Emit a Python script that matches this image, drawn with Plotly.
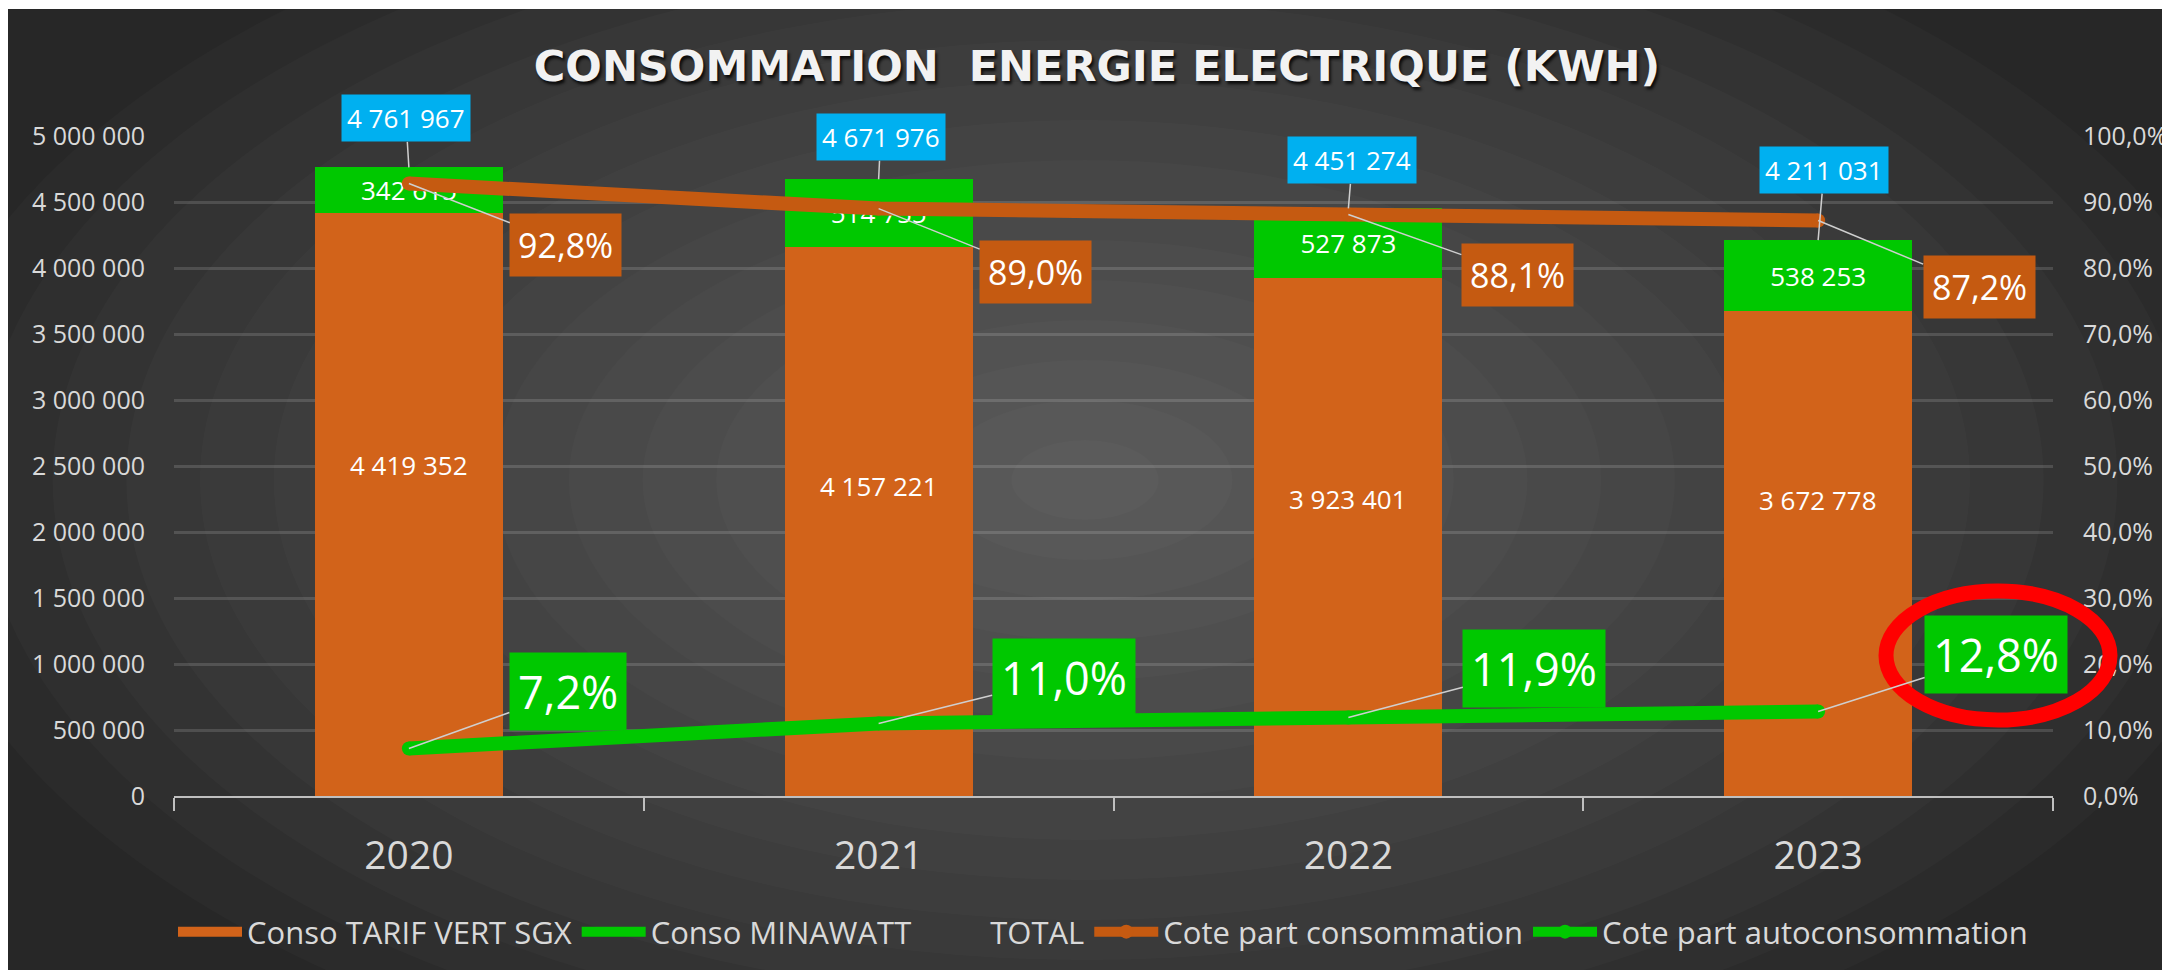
import plotly.graph_objects as go

# ─── Data ─────────────────────────────────────────────────────────────────────
YEARS = ['2020', '2021', '2022', '2023']
TARIF_VERT = [4419352, 4157221, 3923401, 3672778]
MINAWATT = [342615, 514755, 527873, 538253]
TOTAL = [4761967, 4671976, 4451274, 4211031]
PART_CONSO = [0.928, 0.890, 0.881, 0.872]
PART_AUTO = [0.072, 0.110, 0.119, 0.128]

COLORS = {
    'bar_orange': '#D2631A',
    'line_orange': '#C55A11',
    'green': '#00C800',
    'blue': '#00B0F0',
    'text': '#D9D9D9',
    'bg': '#272727',
    'red': '#FF0000',
}
FONT = 'Open Sans'

# page body keeps its default 8px margin, so the figure is drawn 8px in
OFF = 8
W, H = 2170 - OFF, 977 - OFF
PLOT_L, PLOT_R, PLOT_T, PLOT_B = 174, 2053, 136, 796


def px(x):
    return (x - PLOT_L) / (PLOT_R - PLOT_L)


def py(y):
    return (PLOT_B - y) / (PLOT_B - PLOT_T)


def fmt_int(v):
    return f'{v:,}'.replace(',', ' ')


def fmt_pct(v):
    return f'{v * 100:.1f}%'.replace('.', ',')


fig = go.Figure()

fig.add_trace(go.Bar(
    x=YEARS, y=TARIF_VERT, name='Conso TARIF VERT SGX', showlegend=False,
    marker=dict(color=COLORS['bar_orange'], line_width=0),
))
fig.add_trace(go.Bar(
    x=YEARS, y=MINAWATT, name='Conso MINAWATT', showlegend=False,
    marker=dict(color=COLORS['green'], line_width=0),
    text=[fmt_int(v) for v in MINAWATT],
    textposition='inside', insidetextanchor='middle', textangle=0,
    textfont=dict(family=FONT, size=26, color='white'),
))

# legend swatches for the bars (wide rectangles like the original)
for name, color in [('Conso TARIF VERT SGX', COLORS['bar_orange']),
                    ('Conso MINAWATT', COLORS['green'])]:
    fig.add_trace(go.Scatter(
        x=[None], y=[None], name=name, mode='lines',
        line=dict(width=20, color=color),
    ))

fig.add_trace(go.Scatter(
    x=YEARS, y=TOTAL, name='TOTAL', mode='lines',
    line=dict(width=0, color='rgba(0,0,0,0)'),
))
fig.add_trace(go.Scatter(
    x=YEARS, y=PART_CONSO, name='Cote part consommation', mode='lines+markers',
    line=dict(width=14, color=COLORS['line_orange']),
    marker=dict(size=14, color=COLORS['line_orange']), yaxis='y2',
))
fig.add_trace(go.Scatter(
    x=YEARS, y=PART_AUTO, name='Cote part autoconsommation', mode='lines+markers',
    line=dict(width=14, color=COLORS['green']),
    marker=dict(size=14, color=COLORS['green']), yaxis='y2',
))

# ─── Data labels (x given as category index) ──────────────────────────────────
annotations = []
leader = dict(showarrow=True, arrowhead=0, arrowwidth=1.5, arrowcolor='#CFCFCF', standoff=0)

tarif_shift = [39, 36, 38, 54]
for i, (v, s) in enumerate(zip(TARIF_VERT, tarif_shift)):
    annotations.append(dict(
        x=i, y=v / 2, yshift=s, text=fmt_int(v), showarrow=False,
        font=dict(family=FONT, size=26, color='white'),
    ))

total_off = [(-3, -49), (2, -42), (4, -48), (6, -70)]
for i, (v, (ax, ay)) in enumerate(zip(TOTAL, total_off)):
    annotations.append(dict(
        x=i, y=v, ax=ax, ay=ay, text=fmt_int(v),
        bgcolor=COLORS['blue'], borderpad=5,
        font=dict(family=FONT, size=26, color='white'), **leader,
    ))

conso_off = [(157, 61), (157, 63), (169, 60), (161, 67)]
for i, (v, (ax, ay)) in enumerate(zip(PART_CONSO, conso_off)):
    annotations.append(dict(
        x=i, y=v, yref='y2', ax=ax, ay=ay, text=fmt_pct(v),
        bgcolor=COLORS['line_orange'], borderpad=8,
        font=dict(family=FONT, size=34, color='white'), **leader,
    ))

auto_off = [(159, -57), (185, -46), (186, -49), (178, -57)]
for i, (v, (ax, ay)) in enumerate(zip(PART_AUTO, auto_off)):
    annotations.append(dict(
        x=i, y=v, yref='y2', ax=ax, ay=ay, text=fmt_pct(v),
        bgcolor=COLORS['green'], borderpad=8,
        font=dict(family=FONT, size=45, color='white'), **leader,
    ))

# ─── Background: dark panel with radial glow, red highlight ring ──────────────
shapes = [dict(
    type='rect', xref='paper', yref='paper', layer='below',
    x0=px(0), x1=px(2175), y0=py(970), y1=py(9),
    fillcolor=COLORS['bg'], line_width=0,
)]
cx, cy = 1085, 480
n_steps = 16
for k in range(n_steps, 0, -1):
    rx, ry = 1180 * k / n_steps, 640 * k / n_steps
    shapes.append(dict(
        type='circle', xref='paper', yref='paper', layer='below',
        x0=px(cx - rx), x1=px(cx + rx), y0=py(cy + ry), y1=py(cy - ry),
        fillcolor='rgba(255,255,255,0.018)', line_width=0,
    ))
shapes.append(dict(
    type='circle', xref='paper', yref='paper', layer='above',
    x0=px(1886), x1=px(2110), y0=py(720), y1=py(591),
    line=dict(color=COLORS['red'], width=15), fillcolor='rgba(0,0,0,0)',
))

fig.update_layout(
    width=W, height=H, autosize=False,
    margin=dict(l=PLOT_L - OFF, r=2170 - PLOT_R, t=PLOT_T - OFF, b=977 - PLOT_B,
                autoexpand=False),
    paper_bgcolor='white', plot_bgcolor='rgba(0,0,0,0)',
    separators=', ',
    barmode='stack', bargap=0.6,
    showlegend=True,
    title=dict(
        text='CONSOMMATION  ENERGIE ELECTRIQUE (KWH)',
        x=(1097 - OFF) / W, xref='container', xanchor='center',
        y=1 - (66 - OFF) / H, yref='container', yanchor='middle',
        font=dict(family='DejaVu Sans', size=43, color='#F2F2F2', weight=700,
                  shadow='2px 3px 3px rgba(0,0,0,0.8)'),
    ),
    legend=dict(
        orientation='h', xref='container', x=(1103 - OFF) / W, xanchor='center',
        yref='container', y=1 - (932 - OFF) / H, yanchor='middle',
        font=dict(family=FONT, size=31, color=COLORS['text']),
        bgcolor='rgba(0,0,0,0)', traceorder='normal', itemwidth=64,
    ),
    xaxis=dict(
        type='category', range=[-0.5, 3.5], tickson='boundaries',
        ticks='outside', ticklen=13, tickangle=0, automargin=False,
        tickcolor='#BFBFBF', tickwidth=2, showline=True, linecolor='#BFBFBF',
        linewidth=2, showgrid=False, ticklabelstandoff=24,
        tickfont=dict(family=FONT, size=39, color=COLORS['text']),
    ),
    yaxis=dict(
        range=[0, 5000000], dtick=500000, tickformat=',d', automargin=False,
        showgrid=True, gridcolor='rgba(255,255,255,0.14)', gridwidth=3,
        zeroline=False, ticklabelstandoff=28,
        tickfont=dict(family=FONT, size=25, color=COLORS['text']),
    ),
    yaxis2=dict(
        range=[0, 1], dtick=0.1, tickformat='.1%', overlaying='y', side='right',
        showgrid=False, zeroline=False, ticklabelstandoff=29, automargin=False,
        tickfont=dict(family=FONT, size=25, color=COLORS['text']),
    ),
    annotations=annotations,
    shapes=shapes,
)

fig.write_html('out.html')
